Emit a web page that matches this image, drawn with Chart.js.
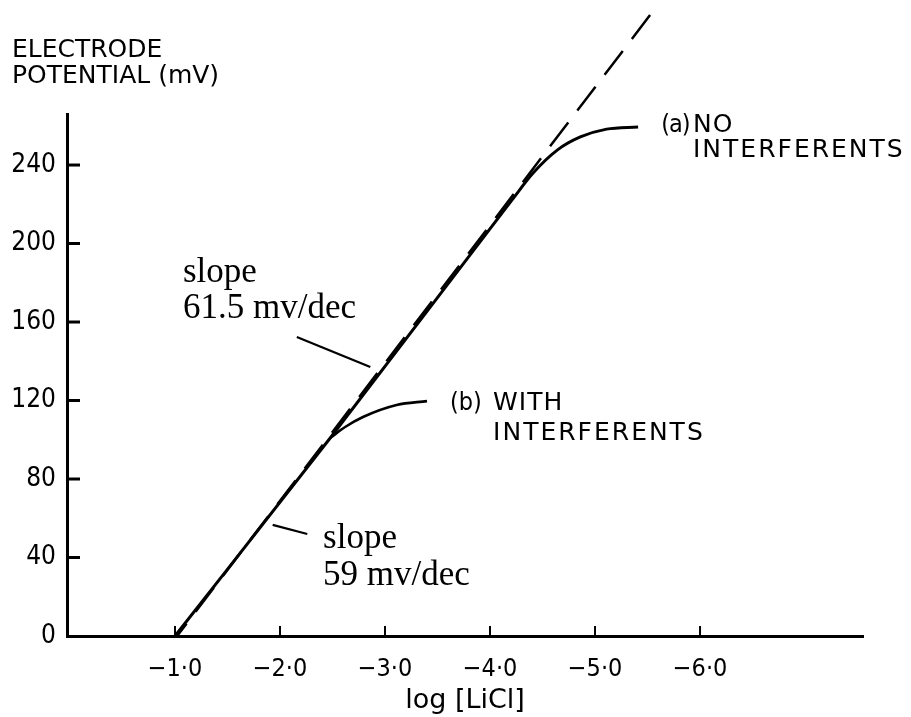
<!DOCTYPE html>
<html><head><meta charset="utf-8">
<script src="https://cdn.jsdelivr.net/npm/chart.js@4"></script>
<style>html,body{margin:0;padding:0;background:#fff}#wrap{width:911px;height:717px;position:relative}</style>
</head><body><div id="wrap"><canvas id="c"></canvas></div>
<script>
// ---- data ----
const xTicks = [-1, -2, -3, -4, -5, -6];
const yTicks = [0, 40, 80, 120, 160, 200, 240];
// (a) no interferents
const noInterfX = [-1.0, -2.48, -4.21, -4.41, -4.64, -4.86, -5.11, -5.41];
const noInterfY = [0, 101, 222.2, 235.9, 247.6, 254.3, 258.3, 259.4];
// (b) with interferents (branch off the common line)
const withInterfX = [-2.48, -2.62, -2.79, -3.11, -3.40];
const withInterfY = [101, 106.5, 111.6, 117.7, 119.7];
// ideal Nernstian line (dashed), listed from its upper end
const idealX = [-5.524, -1.02];
const idealY = [316.4, 0];

// ---- annotations (data coordinates) ----
const SERIF = "35px 'Liberation Serif', serif";
const SANS = "25px 'DejaVu Sans', sans-serif";
const SANS_C = "25px 'DejaVu Sans Condensed', 'DejaVu Sans', sans-serif";
const notes = [
  {text: 'slope', x: -1.076, y: 180.4, font: SERIF, ls: 0},
  {text: '61.5 mv/dec', x: -1.076, y: 162.0, font: SERIF, ls: 0},
  {text: 'slope', x: -2.41, y: 44.8, font: SERIF, ls: 0},
  {text: '59 mv/dec', x: -2.41, y: 26.0, font: SERIF, ls: 0},
  {text: '(a)', x: -5.63, y: 256.8, font: SANS_C, ls: -1},
  {text: 'NO', x: -5.933, y: 256.8, font: SANS, ls: 1},
  {text: 'INTERFERENTS', x: -5.933, y: 244.1, font: SANS, ls: 2},
  {text: '(b)', x: -3.619, y: 115.2, font: SANS_C, ls: 0},
  {text: 'WITH', x: -4.029, y: 115.2, font: SANS, ls: 1},
  {text: 'INTERFERENTS', x: -4.029, y: 99.9, font: SANS, ls: 2}
];
const leaders = [
  {x1: -2.16, y1: 152.4, x2: -2.86, y2: 137.1},
  {x1: -1.93, y1: 56.6, x2: -2.26, y2: 52.0}
];
const yTitle = ['ELECTRODE', 'POTENTIAL (mV)'];

const pts = (xs, ys) => xs.map((x, i) => ({x: x, y: ys[i]}));

const decor = {
  id: 'decor',
  afterDraw(chart) {
    const ctx = chart.ctx, xs = chart.scales.x, ys = chart.scales.y, a = chart.chartArea;
    ctx.save();
    ctx.strokeStyle = '#000';
    ctx.lineCap = 'butt';
    // y tick marks (inward)
    ctx.lineWidth = 3;
    ys.ticks.forEach(t => {
      if (t.value === 0) return;
      const py = ys.getPixelForValue(t.value);
      ctx.beginPath(); ctx.moveTo(a.left, py); ctx.lineTo(a.left + 13, py); ctx.stroke();
    });
    // x tick marks (upward)
    ctx.lineWidth = 2;
    xs.ticks.forEach(t => {
      const px = xs.getPixelForValue(t.value);
      ctx.beginPath(); ctx.moveTo(px, a.bottom); ctx.lineTo(px, a.bottom - 10); ctx.stroke();
    });
    // leader lines
    ctx.lineWidth = 2.2;
    leaders.forEach(l => {
      ctx.beginPath();
      ctx.moveTo(xs.getPixelForValue(l.x1), ys.getPixelForValue(l.y1));
      ctx.lineTo(xs.getPixelForValue(l.x2), ys.getPixelForValue(l.y2));
      ctx.stroke();
    });
    // text notes
    ctx.fillStyle = '#000';
    ctx.textAlign = 'left';
    ctx.textBaseline = 'alphabetic';
    notes.forEach(n => {
      ctx.font = n.font;
      if ('letterSpacing' in ctx) ctx.letterSpacing = n.ls + 'px';
      ctx.fillText(n.text, xs.getPixelForValue(n.x), ys.getPixelForValue(n.y));
    });
    // y axis title (top-left, horizontal)
    ctx.font = SANS;
    if ('letterSpacing' in ctx) ctx.letterSpacing = '0px';
    ctx.fillText(yTitle[0], 12, a.top - 57);
    ctx.fillText(yTitle[1], 12, a.top - 31);
    ctx.restore();
  }
};

new Chart(document.getElementById('c'), {
  type: 'scatter',
  data: {
    datasets: [
      {data: pts(idealX, idealY), showLine: true, borderColor: '#000', borderWidth: 2.5,
       borderDash: [30, 15], pointRadius: 0, clip: false, order: 3},
      {data: pts(noInterfX, noInterfY), showLine: true, borderColor: '#000', borderWidth: 3,
       cubicInterpolationMode: 'monotone', pointRadius: 0, clip: false, order: 1},
      {data: pts(withInterfX, withInterfY), showLine: true, borderColor: '#000', borderWidth: 2.6,
       cubicInterpolationMode: 'monotone', pointRadius: 0, clip: false, order: 2}
    ]
  },
  options: {
    responsive: true,
    maintainAspectRatio: false,
    animation: false,
    events: [],
    layout: {padding: {top: 114, right: 48, bottom: 0, left: 0}},
    plugins: {legend: {display: false}, tooltip: {enabled: false}, title: {display: false}},
    scales: {
      x: {
        type: 'linear', min: -7.552, max: 0.0286, reverse: true,
        afterBuildTicks: s => { s.ticks = xTicks.map(v => ({value: v})); },
        afterFit: s => { s.height = 81; },
        grid: {display: false, drawTicks: false},
        border: {display: true, color: '#000', width: 3},
        ticks: {
          color: '#000', padding: 18,
          font: {family: "'DejaVu Sans Condensed', 'DejaVu Sans', sans-serif", size: 25},
          callback: v => '\u2212' + Math.abs(v).toFixed(1).replace('.', '\u00B7')
        },
        title: {display: true, text: 'log [LiCl]', color: '#000',
                font: {family: "'DejaVu Sans', sans-serif", size: 27}, padding: {top: 0, bottom: 0}}
      },
      y: {
        type: 'linear', min: 0, max: 266,
        afterBuildTicks: s => { s.ticks = yTicks.map(v => ({value: v})); },
        afterFit: s => { s.width = 67; },
        grid: {display: false, drawTicks: false},
        border: {display: true, color: '#000', width: 3},
        ticks: {
          color: '#000', padding: 11,
          font: {family: "'DejaVu Sans Condensed', 'DejaVu Sans', sans-serif", size: 26},
          callback: v => String(v)
        }
      }
    }
  },
  plugins: [decor]
});
</script>
</body></html>
